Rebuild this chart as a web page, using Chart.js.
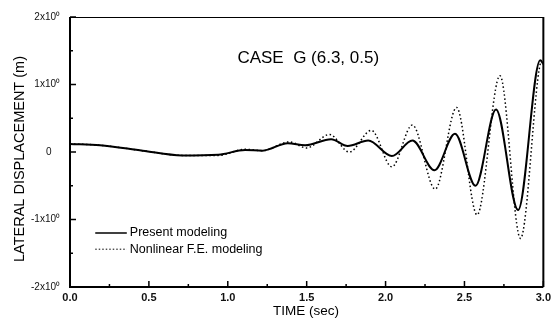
<!DOCTYPE html>
<html>
<head>
<meta charset="utf-8">
<script src="https://cdn.jsdelivr.net/npm/chart.js@4"></script>
<style>
  html, body { margin: 0; padding: 0; background: #ffffff; }
  #wrap { width: 555px; height: 320px; position: relative; }
</style>
</head>
<body>
<div id="wrap"><canvas id="c" width="555" height="320"></canvas></div>
<script>
// ---- Data ----
const presentTime = [0, 0.19, 0.46, 0.71, 0.94, 1.11, 1.22, 1.38, 1.49, 1.655, 1.76, 1.89, 2.04, 2.17, 2.31, 2.44, 2.57, 2.70, 2.84, 2.98, 3.0];
const presentDisp = [0.12, 0.10, 0.02, -0.05, -0.04, 0.03, 0.02, 0.13, 0.10, 0.19, 0.09, 0.17, -0.06, 0.17, -0.27, 0.27, -0.50, 0.63, -0.86, 1.36, 1.30];

const feTime = [0, 0.19, 0.46, 0.71, 0.94, 1.11, 1.22, 1.39, 1.50, 1.645, 1.77, 1.91, 2.04, 2.17, 2.315, 2.45, 2.58, 2.725, 2.855, 2.99, 3.0];
const feDisp = [0.12, 0.10, 0.02, -0.05, -0.05, 0.04, 0.02, 0.15, 0.06, 0.26, 0.0, 0.32, -0.22, 0.40, -0.55, 0.66, -0.93, 1.13, -1.28, 1.37, 1.38];

const xTickValues = [0, 0.5, 1.0, 1.5, 2.0, 2.5, 3.0];
const xMinorValues = [0.25, 0.75, 1.25, 1.75, 2.25, 2.75];
const yTickValues = [-2, -1, 0, 1, 2];
const yTickLabels = ["-2x10\u2070", "-1x10\u2070", "0   ", "1x10\u2070", "2x10\u2070"];
const yMinorValues = [-1.5, -0.5, 0.5, 1.5];

const seriesNames = ["Present modeling", "Nonlinear F.E. modeling"];
const titleText = "CASE  G (6.3, 0.5)";
const xTitle = "TIME (sec)";
const yTitle = "LATERAL DISPLACEMENT (m)";

const FONT = "'Liberation Sans', Arial, sans-serif";

const toXY = (ts, vs) => ts.map((t, i) => ({ x: t, y: vs[i] }));

const framePlugin = {
  id: 'frame',
  afterDatasetsDraw(chart) {
    const { ctx, chartArea: a, scales: { x, y } } = chart;
    ctx.save();
    ctx.strokeStyle = '#000';
    // frame
    ctx.lineWidth = 2;
    ctx.beginPath();
    ctx.moveTo(a.left, a.top); ctx.lineTo(a.left, a.bottom); ctx.lineTo(a.right, a.bottom);
    ctx.stroke();
    ctx.lineWidth = 2;
    ctx.beginPath(); ctx.moveTo(a.right, a.bottom); ctx.lineTo(a.right, a.top); ctx.stroke();
    ctx.lineWidth = 1;
    ctx.beginPath(); ctx.moveTo(a.left, a.top + 0.5); ctx.lineTo(a.right, a.top + 0.5); ctx.stroke();
    // inward ticks
    ctx.lineWidth = 1.5;
    ctx.beginPath();
    xTickValues.forEach(v => { const px = x.getPixelForValue(v); ctx.moveTo(px, a.bottom); ctx.lineTo(px, a.bottom - 6); });
    xMinorValues.forEach(v => { const px = x.getPixelForValue(v); ctx.moveTo(px, a.bottom); ctx.lineTo(px, a.bottom - 3); });
    yTickValues.forEach(v => { const py = y.getPixelForValue(v); ctx.moveTo(a.left, py); ctx.lineTo(a.left + 6, py); });
    yMinorValues.forEach(v => { const py = y.getPixelForValue(v); ctx.moveTo(a.left, py); ctx.lineTo(a.left + 3, py); });
    ctx.stroke();

    // title inside plot
    ctx.fillStyle = '#000';
    ctx.font = '17px ' + FONT;
    ctx.textAlign = 'center';
    ctx.textBaseline = 'middle';
    ctx.fillText(titleText, x.getPixelForValue(1.51), y.getPixelForValue(1.39));

    // legend
    const lx0 = x.getPixelForValue(0.16), lx1 = x.getPixelForValue(0.36);
    const rows = [y.getPixelForValue(-1.2), y.getPixelForValue(-1.44)];
    ctx.font = '12.5px ' + FONT;
    ctx.textAlign = 'left';
    rows.forEach((py, i) => {
      ctx.beginPath();
      ctx.lineWidth = i === 0 ? 1.5 : 1;
      ctx.setLineDash(i === 0 ? [] : [1.5, 2]);
      ctx.moveTo(lx0, py); ctx.lineTo(lx1, py); ctx.stroke();
      ctx.setLineDash([]);
      ctx.fillText(seriesNames[i], lx1 + 3, py);
    });

    // axis titles
    ctx.font = '13.5px ' + FONT;
    ctx.textAlign = 'center';
    ctx.fillText(xTitle, 306, 311);
    ctx.save();
    ctx.font = '14.5px ' + FONT;
    ctx.translate(20, 159);
    ctx.rotate(-Math.PI / 2);
    ctx.fillText(yTitle, 0, 0);
    ctx.restore();
    ctx.restore();
  }
};

new Chart(document.getElementById('c'), {
  type: 'line',
  data: {
    datasets: [
      {
        label: seriesNames[0],
        data: toXY(presentTime, presentDisp),
        borderColor: '#000',
        borderWidth: 2,
        pointRadius: 0,
        cubicInterpolationMode: 'monotone',
        fill: false
      },
      {
        label: seriesNames[1],
        data: toXY(feTime, feDisp),
        borderColor: '#000',
        borderWidth: 1.5,
        borderDash: [1.5, 2.5],
        pointRadius: 0,
        cubicInterpolationMode: 'monotone',
        fill: false
      }
    ]
  },
  options: {
    responsive: false,
    animation: false,
    events: [],
    layout: { padding: { left: 0, right: 8, top: 17, bottom: 0 } },
    plugins: { legend: { display: false }, tooltip: { enabled: false }, title: { display: false } },
    scales: {
      x: {
        type: 'linear', min: 0, max: 3,
        afterBuildTicks: s => { s.ticks = xTickValues.map(v => ({ value: v })); },
        afterFit: s => { s.height = 33; },
        grid: { display: false, drawTicks: false },
        border: { display: false },
        ticks: {
          padding: 4,
          maxRotation: 0,
          autoSkip: false,
          color: '#111',
          font: { family: FONT, size: 11, weight: 'bold' },
          callback: v => Number(v).toFixed(1)
        }
      },
      y: {
        type: 'linear', min: -2, max: 2,
        afterBuildTicks: s => { s.ticks = yTickValues.map(v => ({ value: v })); },
        afterFit: s => { s.width = 70; },
        grid: { display: false, drawTicks: false },
        border: { display: false },
        ticks: {
          padding: 10,
          autoSkip: false,
          color: '#111',
          font: { family: FONT, size: 10 },
          callback: (v) => yTickLabels[yTickValues.indexOf(v)]
        }
      }
    }
  },
  plugins: [framePlugin]
});
</script>
</body>
</html>
